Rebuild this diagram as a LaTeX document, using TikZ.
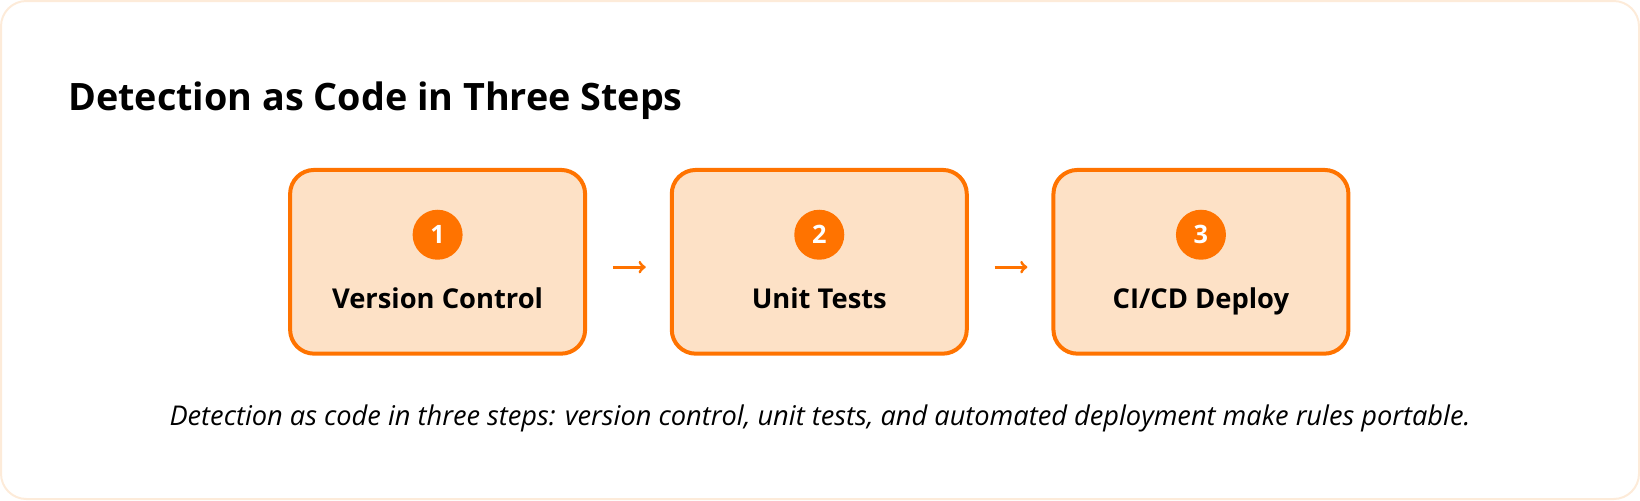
\documentclass[tikz,border=0pt]{standalone}
\usepackage{fontspec}
\setmainfont{Open Sans}
\usetikzlibrary{positioning,arrows}
\definecolor{stepOrange}{HTML}{FF7300}
\definecolor{stepFill}{HTML}{FDE1C6}
\definecolor{frameLine}{HTML}{FDEBD9}

\begin{document}
\begin{tikzpicture}[x=0.75pt,y=-0.75pt]
\tikzstyle{every node}+=[inner sep=0pt]
\tikzstyle{stepbox}=[draw=stepOrange, fill=stepFill, line width=3pt, rounded corners=18pt, minimum width=221.25pt, minimum height=137.8pt]
\tikzstyle{numdot}=[circle, fill=stepOrange, minimum size=37.5pt, text=white, font=\fontsize{19}{20}\selectfont\bfseries]
\tikzstyle{steptext}=[anchor=base, font=\fontsize{20.5}{23}\selectfont\bfseries]
\tikzstyle{flowarrow}=[stepOrange, line width=2.25pt, ->, >=to, shorten <=19.3pt, shorten >=18pt]
\useasboundingbox (0,0) rectangle (1640,500);
\draw [frameLine, line width=1.5pt, rounded corners=19pt] (1,1) rectangle (1639,499);
\node [anchor=base west, font=\fontsize{28.3}{34}\selectfont\bfseries] (title) at (68,110) {Detection as Code in Three Steps};
% the three steps
\node [stepbox] (vc) at (437.6,261.8) {};
\node [stepbox, right=62pt of vc] (ut) {};
\node [stepbox, right=62pt of ut] (cd) {};
\node [numdot] (n1) at ([yshift=20.3pt]vc.center) {1};
\node [numdot] (n2) at ([yshift=20.3pt]ut.center) {2};
\node [numdot] (n3) at ([yshift=20.3pt]cd.center) {3};
\node [steptext] (vclabel) at ([yshift=-35pt]vc.center) {Version Control};
\node [steptext] (utlabel) at ([yshift=-35pt]ut.center) {Unit Tests};
\node [steptext] (cdlabel) at ([yshift=-35pt]cd.center) {CI/CD Deploy};
\draw [flowarrow] ([yshift=-4pt]vc.east) -- ([yshift=-4pt]ut.west);
\draw [flowarrow] ([yshift=-4pt]ut.east) -- ([yshift=-4pt]cd.west);
\node [anchor=base, font=\fontsize{20.4}{22}\selectfont\itshape] (caption) at (820,425) {Detection as code in three steps: version control, unit tests, and automated deployment make rules portable.};
\end{tikzpicture}
\end{document}
